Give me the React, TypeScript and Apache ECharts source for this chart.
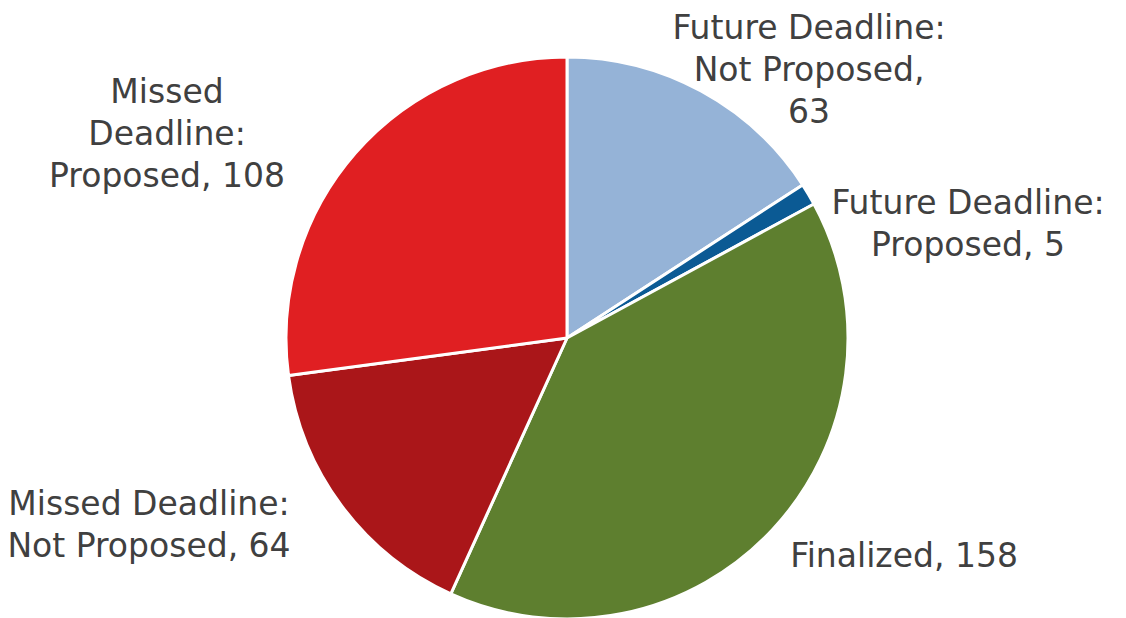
import React, { useEffect, useRef } from "react";
import * as echarts from "echarts";

const categories = [
  "Future Deadline:\nNot Proposed",
  "Future Deadline:\nProposed",
  "Finalized",
  "Missed Deadline:\nNot Proposed",
  "Missed\nDeadline:\nProposed",
];
const labelTexts = [
  "Future Deadline:\nNot Proposed,\n63",
  "Future Deadline:\nProposed, 5",
  "Finalized, 158",
  "Missed Deadline:\nNot Proposed, 64",
  "Missed\nDeadline:\nProposed, 108",
];
const values = [63, 5, 158, 64, 108];
const colors = ["#95B3D7", "#0B5A94", "#5E7F2F", "#AA1619", "#E01F22"];

// label anchor points (layout only)
const labelPos = [
  [809, 69],
  [968, 223],
  [904, 555],
  [149, 524],
  [167, 133],
];

export default function App() {
  const ref = useRef<HTMLDivElement>(null);
  useEffect(() => {
    if (!ref.current) return;
    const chart = echarts.init(ref.current, null, { renderer: "svg" });
    chart.setOption({
      animation: false,
      backgroundColor: "#ffffff",
      series: [
        {
          type: "pie",
          center: [567, 338],
          radius: 281,
          startAngle: 90,
          clockwise: true,
          avoidLabelOverlap: false,
          itemStyle: { borderColor: "#ffffff", borderWidth: 3 },
          label: {
            show: true,
            position: "outside",
            formatter: (p: any) => labelTexts[p.dataIndex],
            fontFamily: "DejaVu Sans",
            fontSize: 33,
            lineHeight: 42,
            color: "#404040",
            align: "center",
          },
          labelLine: { show: false },
          labelLayout: (p: any) => ({
            x: labelPos[p.dataIndex][0],
            y: labelPos[p.dataIndex][1],
            align: "center",
            verticalAlign: "middle",
            hideOverlap: false,
          }),
          data: categories.map((name, i) => ({
            name,
            value: values[i],
            itemStyle: { color: colors[i] },
          })),
        },
      ],
    });
    return () => chart.dispose();
  }, []);
  return (
    <div
      ref={ref}
      style={{ position: "fixed", left: 0, top: 0, width: 1126, height: 618 }}
    />
  );
}
